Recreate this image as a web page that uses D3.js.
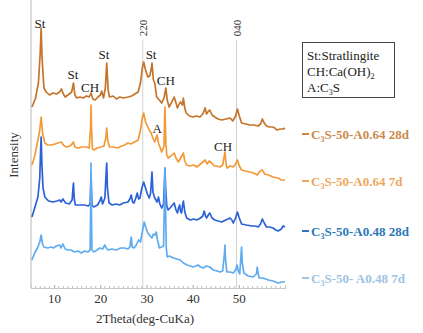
<!DOCTYPE html>
<html>
<head>
<meta charset="utf-8">
<script src="https://cdn.jsdelivr.net/npm/d3@7"></script>
<style>
  html, body { margin: 0; padding: 0; background: #fff; }
  svg { display: block; font-family: "Liberation Serif", "Times New Roman", serif; }
</style>
</head>
<body>
<div id="chart"></div>
<script>
// 2theta (deg) / stacked intensity
const a064d28 = [
  [5.2, 181], [6.0, 190], [6.6, 205], [7.0, 235], [7.2, 260], [7.4, 230], [7.8, 200], [8.3, 196],
  [9.0, 193], [9.8, 195], [10.5, 194], [11.2, 196], [11.6, 199], [12.0, 194], [12.4, 191], [13.0, 193],
  [13.8, 196], [14.2, 205], [14.5, 193], [14.9, 190], [15.6, 191], [16.3, 190], [17.0, 192], [17.6, 191],
  [18.0, 195], [18.4, 189], [18.9, 188], [19.5, 191], [20.0, 193], [20.3, 197], [20.7, 190], [21.1, 200],
  [21.4, 225], [21.7, 198], [22.0, 191], [22.8, 192], [23.5, 189], [24.2, 191], [25.0, 190], [26.0, 191],
  [26.8, 192], [27.5, 194], [28.2, 196], [28.7, 205], [29.1, 220], [29.4, 226], [29.8, 218], [30.3, 211],
  [30.7, 212], [31.0, 218], [31.2, 225], [31.5, 208], [31.8, 205], [32.2, 191], [32.8, 188], [33.3, 185],
  [33.8, 190], [34.2, 200], [34.5, 188], [34.9, 181], [35.5, 186], [36.0, 191], [36.4, 185], [36.7, 180],
  [37.1, 184], [37.4, 186], [37.8, 183], [38.0, 190], [38.3, 180], [38.6, 175], [39.3, 172], [40.1, 171],
  [40.8, 172], [41.6, 171], [42.2, 174], [42.7, 180], [43.0, 174], [43.3, 176], [43.7, 178], [44.2, 173],
  [44.8, 171], [45.5, 169], [46.3, 168], [47.2, 169], [48.1, 170], [48.7, 167], [49.3, 172], [49.7, 179],
  [50.1, 172], [50.6, 165], [51.5, 164], [52.4, 163], [53.3, 163], [54.2, 162], [54.7, 164], [55.1, 169],
  [55.5, 165], [56.0, 162], [56.6, 161], [57.3, 161], [57.8, 160], [58.2, 158], [59.0, 159], [59.6, 159],
  [60.0, 160]
];
const a064d7 = [
  [5.2, 123], [5.8, 132], [6.5, 148], [6.9, 158], [7.2, 171], [7.5, 155], [8.0, 145], [8.6, 143],
  [9.4, 143], [10.2, 144], [10.8, 145], [11.6, 146], [12.0, 143], [12.6, 141], [13.4, 142], [13.9, 144],
  [14.2, 146], [14.5, 141], [15.2, 140], [16.0, 141], [17.0, 141], [17.6, 140], [17.9, 160], [18.0, 183],
  [18.1, 160], [18.3, 139], [18.6, 138], [19.3, 140], [20.2, 141], [20.8, 142], [21.2, 150], [21.4, 160],
  [21.6, 148], [22.0, 141], [22.8, 141], [23.8, 140], [24.6, 142], [25.3, 143], [26.0, 145], [26.6, 144],
  [27.4, 146], [28.2, 148], [28.7, 158], [29.1, 170], [29.4, 175], [29.8, 166], [30.3, 161], [30.7, 157],
  [31.0, 155], [31.4, 150], [31.8, 146], [32.3, 153], [32.6, 145], [33.0, 140], [33.3, 136], [33.8, 142],
  [34.0, 181], [34.2, 145], [34.4, 133], [34.7, 130], [35.3, 132], [36.0, 135], [36.4, 130], [36.9, 126],
  [37.4, 130], [38.0, 135], [38.3, 127], [38.7, 123], [39.5, 122], [40.3, 123], [40.9, 121], [41.7, 124],
  [42.2, 126], [42.7, 128], [43.2, 124], [43.6, 127], [44.1, 125], [44.7, 122], [45.3, 122], [45.9, 121],
  [46.5, 123], [47.0, 136], [47.3, 122], [47.5, 120], [48.1, 122], [48.8, 121], [49.3, 124], [49.7, 128],
  [50.1, 122], [50.6, 118], [51.4, 117], [52.4, 116], [53.2, 115], [54.0, 113], [54.6, 117], [55.1, 118],
  [55.6, 114], [56.4, 113], [57.4, 111], [58.5, 110], [59.2, 108], [60.0, 108]
];
const a048d28 = [
  [5.2, 71], [5.8, 80], [6.5, 91], [6.9, 110], [7.1, 140], [7.2, 151], [7.35, 125], [7.6, 100],
  [8.0, 91], [8.8, 87], [9.8, 86], [10.6, 87], [11.2, 88], [11.5, 86], [11.9, 89], [12.5, 85],
  [13.3, 84], [13.9, 88], [14.1, 100], [14.2, 105], [14.35, 90], [14.6, 83], [15.5, 83], [16.6, 83],
  [17.4, 82], [17.8, 84], [18.0, 115], [18.2, 83], [18.6, 81], [19.4, 83], [19.9, 87], [20.2, 91],
  [20.5, 84], [21.0, 90], [21.3, 118], [21.4, 125], [21.55, 100], [21.9, 85], [22.6, 83], [23.4, 84],
  [24.2, 83], [25.0, 85], [26.0, 86], [26.4, 89], [26.7, 93], [27.0, 86], [27.3, 85], [27.7, 90],
  [28.0, 95], [28.3, 89], [28.6, 90], [29.0, 100], [29.4, 106], [29.8, 100], [30.2, 94], [30.6, 90],
  [30.9, 95], [31.2, 116], [31.4, 96], [31.8, 90], [32.3, 86], [32.6, 91], [32.9, 84], [33.3, 80],
  [33.7, 84], [33.9, 105], [34.0, 120], [34.15, 100], [34.4, 82], [34.7, 78], [35.3, 81], [36.0, 85],
  [36.4, 78], [36.7, 75], [37.0, 81], [37.2, 83], [37.4, 76], [37.6, 75], [37.8, 82], [38.0, 87],
  [38.3, 76], [38.7, 70], [39.5, 68], [40.2, 69], [40.9, 68], [41.7, 70], [42.2, 72], [42.5, 77],
  [42.8, 72], [43.0, 70], [43.4, 73], [43.7, 75], [44.2, 70], [44.8, 68], [45.5, 67], [46.3, 66],
  [47.2, 68], [48.1, 70], [48.5, 68], [48.8, 65], [49.3, 70], [49.7, 76], [50.1, 70], [50.6, 64],
  [51.6, 63], [52.8, 62], [53.6, 62], [54.2, 61], [54.7, 64], [55.1, 69], [55.5, 65], [56.0, 61],
  [56.7, 61], [57.4, 60], [58.0, 58], [58.5, 57], [59.2, 59], [59.6, 62], [60.0, 61]
];
const a048d7 = [
  [5.2, 28], [5.8, 35], [6.5, 41], [6.9, 46], [7.2, 53], [7.5, 44], [7.8, 41], [8.6, 40],
  [9.4, 41], [9.8, 40], [10.5, 42], [11.2, 43], [11.5, 40], [11.9, 44], [12.4, 39], [13.0, 38],
  [13.7, 38], [14.4, 36], [15.2, 37], [15.9, 35], [16.6, 37], [17.3, 36], [17.8, 38], [17.95, 90],
  [18.0, 125], [18.05, 90], [18.2, 38], [18.6, 36], [19.3, 38], [19.9, 40], [20.5, 39], [21.0, 43],
  [21.3, 40], [21.7, 38], [22.5, 39], [23.5, 38], [24.4, 40], [25.3, 40], [26.0, 39], [26.4, 41],
  [26.7, 51], [26.9, 41], [27.3, 40], [27.8, 43], [28.3, 48], [28.7, 46], [29.1, 56], [29.5, 66],
  [29.9, 60], [30.3, 55], [30.8, 52], [31.2, 50], [31.5, 54], [31.9, 53], [32.1, 56], [32.4, 48],
  [32.8, 40], [33.3, 41], [33.7, 42], [33.9, 90], [34.0, 120], [34.1, 90], [34.3, 40], [34.5, 31],
  [35.0, 32], [35.8, 30], [36.6, 29], [37.3, 28], [38.0, 25], [38.8, 23], [39.5, 22], [40.1, 21],
  [40.7, 22], [41.2, 23], [41.7, 21], [42.3, 20], [43.0, 22], [43.7, 21], [44.5, 18], [45.3, 17],
  [45.9, 16], [46.5, 17], [46.9, 35], [47.0, 43], [47.1, 30], [47.4, 16], [48.1, 16], [48.8, 15],
  [49.3, 18], [49.6, 23], [49.9, 17], [50.2, 14], [50.5, 35], [50.6, 41], [50.75, 25], [51.1, 15],
  [52.0, 12], [53.1, 11], [53.8, 14], [54.0, 21], [54.2, 14], [54.4, 10], [55.2, 10], [56.4, 8],
  [57.4, 7], [58.5, 5], [59.3, 6], [60.0, 6]
];

const seriesNames = ['C3S-50-A0.64 28d', 'C3S-50-A0.64 7d', 'C3S-50-A0.48 28d', 'C3S-50- A0.48 7d'];
const seriesData = [a064d28, a064d7, a048d28, a048d7];
const lineColors = ['#c6742a', '#f39a38', '#2c62d8', '#5eacef'];
const textColors = ['#c98a4c', '#f0a75c', '#2b78b8', '#9ec3e3'];

const xTicks = [10, 20, 30, 40, 50];
const refLines = [{ pos: 29.2, label: '220' }, { pos: 49.5, label: '040' }];

// peak labels: [2theta, intensity, text]
const peakLabels = [
  [6.95, 265, 'St'], [14.1, 214, 'St'], [17.8, 201, 'CH'], [20.8, 234, 'St'],
  [31.0, 234, 'St'], [34.2, 208, 'CH'], [32.3, 160, 'A'], [46.6, 142, 'CH']
];

const width = 423, height = 333;

const svg = d3.select('#chart')
  .append('svg')
  .attr('width', width)
  .attr('height', height);

const x = d3.scaleLinear().domain([5, 60]).range([31, 285]);
const y = d3.scaleLinear().domain([0, 288]).range([288, 0]);

// axes frame
svg.append('line')
  .attr('x1', 31).attr('x2', 31).attr('y1', 0).attr('y2', 288)
  .attr('stroke', '#cfcfcf').attr('stroke-width', 1.5);

const xAxis = svg.append('g')
  .attr('transform', 'translate(0,288)')
  .call(d3.axisBottom(x).tickValues(xTicks).tickSize(-3).tickPadding(6));
xAxis.attr('font-family', 'Liberation Serif');
xAxis.select('.domain').attr('stroke', '#c8c8c8').attr('stroke-width', 1.2);
xAxis.selectAll('.tick line').attr('stroke', '#aaa');
xAxis.selectAll('.tick text')
  .attr('font-family', 'Liberation Serif').attr('font-size', 13).attr('fill', '#333');

// minor ticks every degree
svg.append('g')
  .selectAll('line')
  .data(d3.range(6, 61, 1).filter(d => d % 10 !== 0))
  .enter()
  .append('line')
  .attr('x1', d => x(d)).attr('x2', d => x(d))
  .attr('y1', 288).attr('y2', 286)
  .attr('stroke', '#aaa').attr('stroke-width', 0.8);

// reference lines
refLines.forEach(r => {
  svg.append('line')
    .attr('x1', x(r.pos)).attr('x2', x(r.pos))
    .attr('y1', 40).attr('y2', 288)
    .attr('stroke', '#d0d0d0').attr('stroke-width', 1);
  svg.append('text')
    .attr('transform', `translate(${x(r.pos) + 4},${28}) rotate(-90)`)
    .attr('text-anchor', 'middle')
    .attr('font-size', 11)
    .attr('fill', '#333')
    .text(r.label);
});

// patterns
const line = d3.line()
  .x(d => x(d[0]))
  .y(d => y(d[1]));

svg.append('g')
  .selectAll('path')
  .data(seriesData)
  .enter()
  .append('path')
  .attr('d', line)
  .attr('fill', 'none')
  .attr('stroke', (d, i) => lineColors[i])
  .attr('stroke-width', 1.7)
  .attr('stroke-linejoin', 'round');

// peak labels
svg.append('g')
  .selectAll('text')
  .data(peakLabels)
  .enter()
  .append('text')
  .attr('x', d => x(d[0]))
  .attr('y', d => y(d[1]))
  .attr('dy', '0.35em')
  .attr('text-anchor', 'middle')
  .attr('font-size', 13)
  .attr('fill', '#222')
  .text(d => d[2]);

// key box
const box = svg.append('g');
box.append('rect')
  .attr('x', 302.5).attr('y', 42.5).attr('width', 92).attr('height', 55)
  .attr('fill', '#fff').attr('stroke', '#444').attr('stroke-width', 1);

// text with subscript parts, e.g. C3S
function subText(g, xPos, yPos, parts, opts) {
  const t = g.append('text')
    .attr('x', xPos).attr('y', yPos)
    .attr('font-size', opts.size)
    .attr('font-weight', opts.weight || 'normal')
    .attr('fill', opts.fill);
  let shift = 0;
  parts.forEach(p => {
    if (p.sub) {
      t.append('tspan').attr('dy', 3 - shift).attr('font-size', opts.size * 0.62).text(p.sub);
      shift = 3;
    } else {
      t.append('tspan').attr('dy', -shift).text(p.t);
      shift = 0;
    }
  });
  return t;
}

subText(box, 307, 60, [{ t: 'St:Stratlingite' }], { size: 13, fill: '#222' });
subText(box, 307, 76, [{ t: 'CH:Ca(OH)' }, { sub: '2' }], { size: 13, fill: '#222' });
subText(box, 307, 92, [{ t: 'A:C' }, { sub: '3' }, { t: 'S' }], { size: 13, fill: '#222' });

// series legend
const legendY = [134, 181, 231, 278];
seriesNames.forEach((name, i) => {
  const g = svg.append('g');
  g.append('line')
    .attr('x1', 302).attr('x2', 309)
    .attr('y1', legendY[i]).attr('y2', legendY[i])
    .attr('stroke', textColors[i]).attr('stroke-width', 2);
  const rest = name.slice(2);
  subText(g, 311, legendY[i] + 4.5, [{ t: 'C' }, { sub: '3' }, { t: rest }],
    { size: 13, weight: 'bold', fill: textColors[i] });
});

// axis titles
svg.append('text')
  .attr('x', 145).attr('y', 323)
  .attr('text-anchor', 'middle')
  .attr('font-size', 13)
  .attr('fill', '#333')
  .text('2Theta(deg-CuKa)');

svg.append('text')
  .attr('transform', 'translate(18,155) rotate(-90)')
  .attr('text-anchor', 'middle')
  .attr('font-size', 13)
  .attr('fill', '#333')
  .text('Intensity');
</script>
</body>
</html>
